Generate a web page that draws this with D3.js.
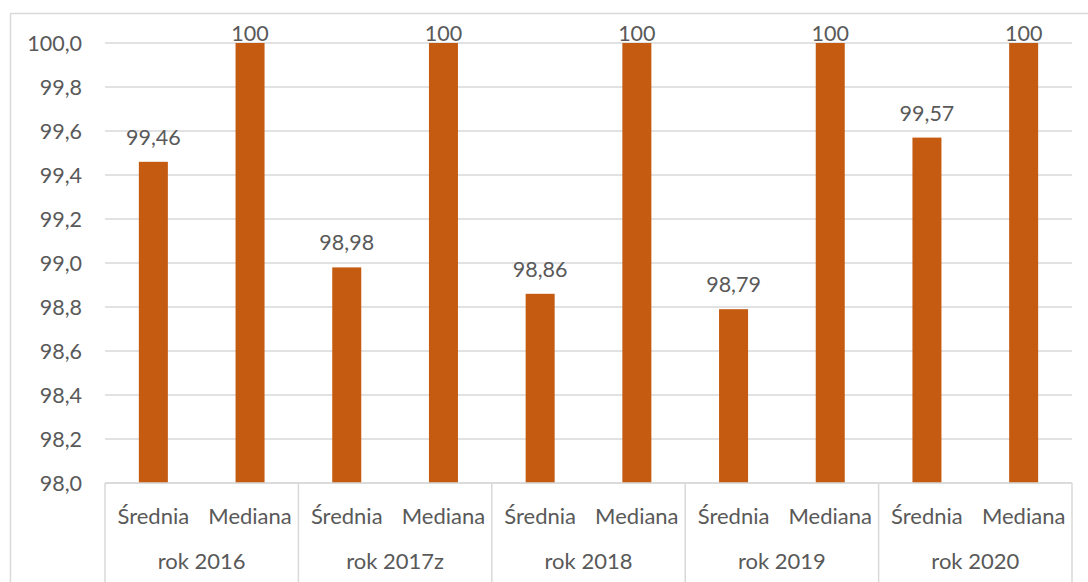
<!DOCTYPE html>
<html><head><meta charset="utf-8">
<script src="https://cdn.jsdelivr.net/npm/d3@7"></script>
<style>body{margin:0;background:#fff}svg{display:block}text{font-family:Lato,"Open Sans",sans-serif;fill:#595959}</style>
</head><body><svg id="c" width="1088" height="582"></svg>
<script>
const groups = ["rok 2016","rok 2017z","rok 2018","rok 2019","rok 2020"];
const subcats = ["Średnia","Mediana"];
const values = [[99.46,100],[98.98,100],[98.86,100],[98.79,100],[99.57,100]];
const labels = [["99,46","100"],["98,98","100"],["98,86","100"],["98,79","100"],["99,57","100"]];
const yTicks = [98.0,98.2,98.4,98.6,98.8,99.0,99.2,99.4,99.6,99.8,100.0];

const svg = d3.select("#c");
const L=105,R=1072,T=43,B=483;
svg.append("rect").attr("x",10.5).attr("y",13.5).attr("width",1090).attr("height",580).attr("fill","none").attr("stroke","#d9d9d9").attr("stroke-width",1.5);

const y = d3.scaleLinear().domain([98,100]).range([B,T]);
const x0 = d3.scaleBand().domain(groups).range([L,R]);
const x1 = d3.scaleBand().domain(subcats).range([0,x0.bandwidth()]).paddingInner(0.7).paddingOuter(0.35);

// gridlines
svg.append("g").selectAll("line").data(yTicks).join("line")
  .attr("x1",L).attr("x2",R).attr("y1",d=>y(d)).attr("y2",d=>y(d))
  .attr("stroke","#d9d9d9").attr("stroke-width",1.5);

// y labels
const fmt = d=>d3.format(".1f")(d).replace(".",",");
svg.append("g").selectAll("text").data(yTicks).join("text")
  .attr("x",82).attr("y",d=>y(d)).attr("dy","0.36em").attr("text-anchor","end")
  .style("font-size","21.5px").text(fmt);

// bars
const flat = [];
groups.forEach((g,i)=>subcats.forEach((s,j)=>flat.push({g,s,v:values[i][j],l:labels[i][j]})));
svg.append("g").selectAll("rect").data(flat).join("rect")
  .attr("x",d=>x0(d.g)+x1(d.s)).attr("width",x1.bandwidth())
  .attr("y",d=>y(d.v)).attr("height",d=>B-y(d.v)).attr("fill","#C55A11");
svg.append("g").selectAll("text").data(flat).join("text")
  .attr("x",d=>x0(d.g)+x1(d.s)+x1.bandwidth()/2).attr("y",d=>Math.max(y(d.v)-17,41))
  .attr("text-anchor","middle").style("font-size","21.5px").text(d=>d.l);

// category axis
const ax = svg.append("g");
ax.append("line").attr("x1",L).attr("x2",R).attr("y1",B).attr("y2",B).attr("stroke","#d9d9d9").attr("stroke-width",1.5);
const bounds = groups.map(g=>x0(g)).concat([R]);
ax.selectAll("line.sep").data(bounds).join("line").attr("class","sep")
  .attr("x1",d=>d).attr("x2",d=>d).attr("y1",B).attr("y2",582).attr("stroke","#d9d9d9").attr("stroke-width",1.5);
ax.selectAll("text.sub").data(flat).join("text").attr("class","sub")
  .attr("x",d=>x0(d.g)+x0.bandwidth()/4*(1+2*subcats.indexOf(d.s)))
  .attr("y",516).attr("dy","0.36em").attr("text-anchor","middle").style("font-size","22px").text(d=>d.s);
ax.selectAll("text.grp").data(groups).join("text").attr("class","grp")
  .attr("x",d=>x0(d)+x0.bandwidth()/2).attr("y",561).attr("dy","0.36em").attr("text-anchor","middle")
  .style("font-size","22px").text(d=>d);
</script></body></html>
